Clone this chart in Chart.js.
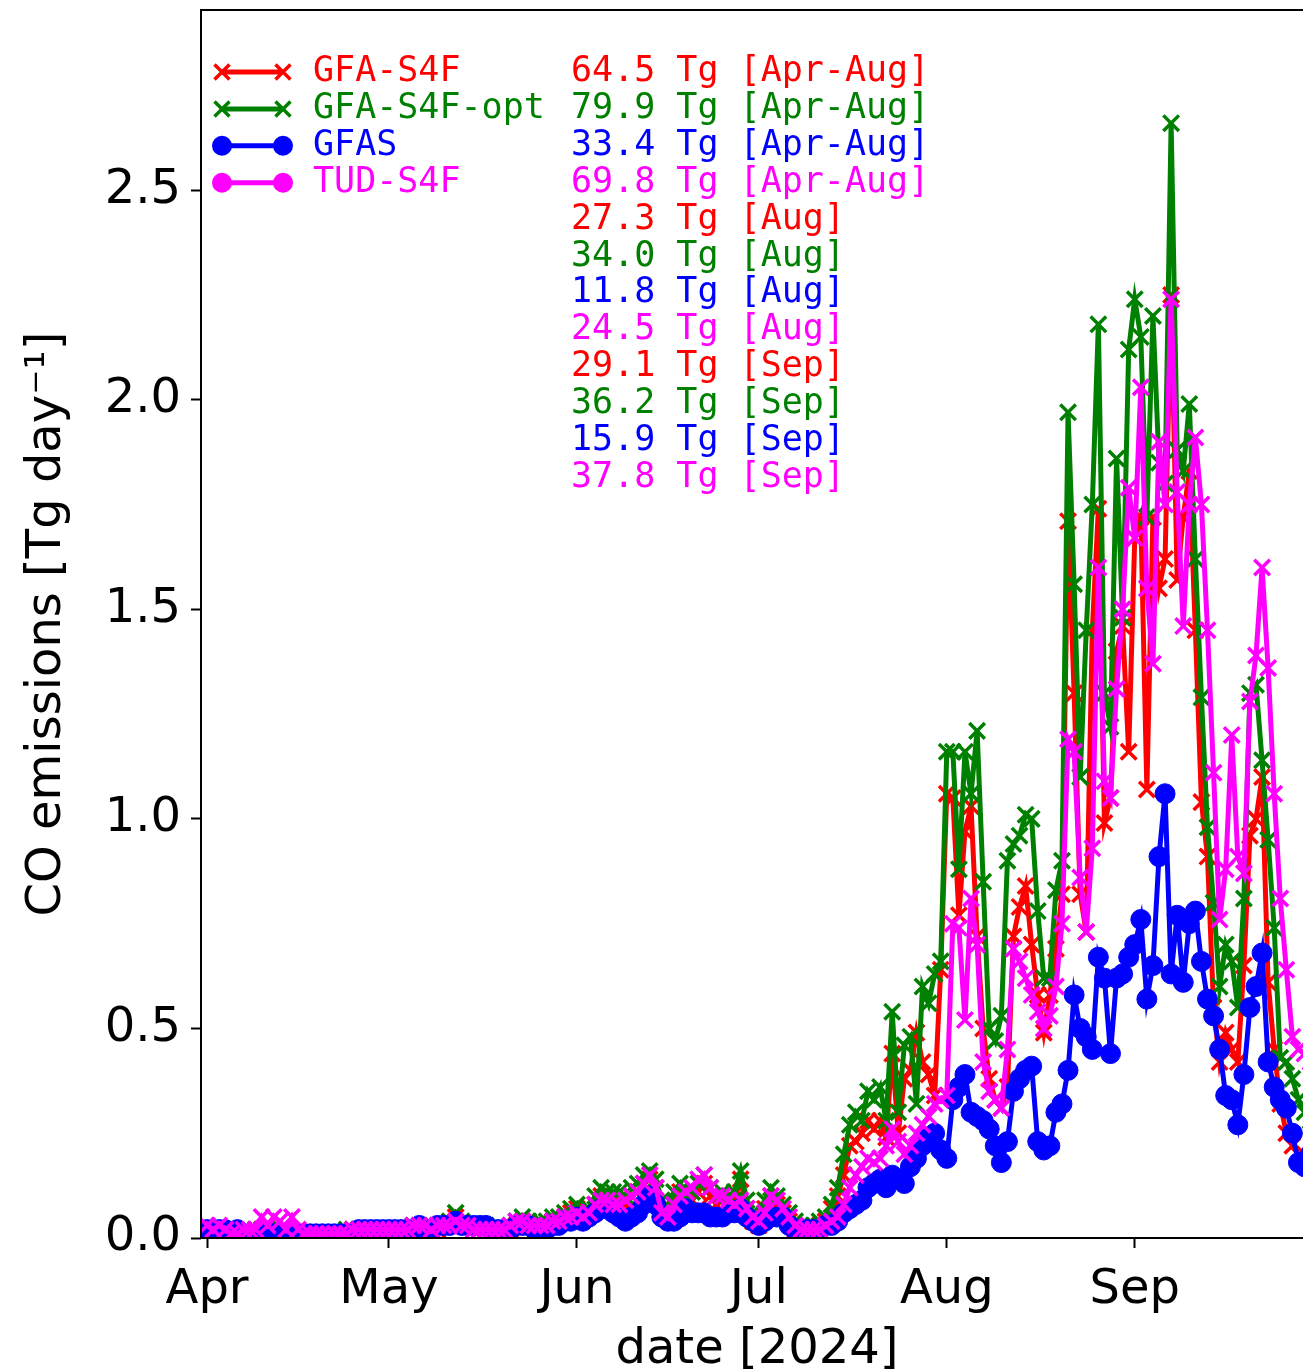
<!DOCTYPE html>
<html>
<head>
<meta charset="utf-8">
<script src="https://cdn.jsdelivr.net/npm/chart.js@4.4.1/dist/chart.umd.min.js"></script>
<style>
  html, body { margin: 0; padding: 0; background: #fff; overflow: hidden; }
  #wrap { position: absolute; left: 0; top: 0; width: 1320px; height: 1372px; }
</style>
</head>
<body>
<div id="wrap"><canvas id="myChart" width="1320" height="1372"></canvas></div>
<script>
// daily CO emissions [Tg/day], index 0 = 1 Apr 2024 ... 182 = 30 Sep 2024
const gfaS4F = [
  0.02,0.02,0.01,0.01,0.01,0.01,0.01,0.01,0.01,0.02,
  0.02,0.01,0.01,0.01,0.01,0.01,0.01,0.01,0.01,0.01,
  0.01,0.01,0.01,0.01,0.02,0.02,0.02,0.02,0.02,0.02,
  0.02,0.02,0.02,0.02,0.02,0.02,0.02,0.02,0.02,0.03,
  0.03,0.05,0.03,0.03,0.03,0.02,0.02,0.02,0.02,0.02,
  0.02,0.03,0.04,0.03,0.03,0.03,0.03,0.04,0.04,0.05,
  0.06,0.07,0.05,0.06,0.08,0.10,0.09,0.09,0.09,0.08,
  0.10,0.11,0.13,0.14,0.12,0.07,0.05,0.08,0.11,0.09,
  0.09,0.11,0.13,0.10,0.08,0.09,0.08,0.09,0.14,0.07,
  0.04,0.03,0.07,0.10,0.08,0.06,0.04,0.02,0.02,0.02,
  0.02,0.03,0.04,0.07,0.10,0.15,0.22,0.23,0.25,0.28,
  0.26,0.28,0.24,0.44,0.25,0.38,0.40,0.49,0.42,0.39,
  0.34,0.64,1.06,1.05,0.77,0.97,1.03,0.72,0.50,0.38,
  0.33,0.31,0.36,0.72,0.79,0.84,0.70,0.58,0.49,0.58,
  0.69,0.82,1.71,1.30,0.82,0.73,1.45,1.74,0.99,1.05,
  1.40,1.46,1.16,1.67,1.72,1.07,1.72,1.55,1.62,2.25,
  1.57,1.72,1.83,1.45,1.04,0.91,0.55,0.42,0.49,0.45,
  0.42,0.65,0.96,1.00,1.10,0.61,0.45,0.32,0.25,0.22,
  0.20,0.20,0.19
];
const gfaS4FOpt = [
  0.02,0.02,0.02,0.01,0.01,0.01,0.01,0.01,0.02,0.02,
  0.02,0.02,0.01,0.01,0.01,0.01,0.01,0.01,0.01,0.01,
  0.01,0.01,0.01,0.02,0.02,0.02,0.02,0.02,0.02,0.02,
  0.02,0.02,0.02,0.02,0.03,0.03,0.02,0.02,0.03,0.03,
  0.04,0.06,0.04,0.03,0.03,0.03,0.03,0.02,0.02,0.02,
  0.03,0.04,0.05,0.04,0.03,0.04,0.04,0.05,0.05,0.06,
  0.07,0.08,0.06,0.07,0.10,0.12,0.11,0.11,0.11,0.10,
  0.12,0.13,0.15,0.16,0.14,0.09,0.07,0.11,0.13,0.10,
  0.11,0.13,0.15,0.12,0.10,0.11,0.10,0.11,0.16,0.09,
  0.06,0.05,0.09,0.12,0.10,0.08,0.06,0.04,0.03,0.03,
  0.03,0.04,0.05,0.08,0.12,0.20,0.27,0.30,0.28,0.35,
  0.33,0.36,0.28,0.54,0.30,0.46,0.48,0.32,0.60,0.56,
  0.63,0.66,1.16,1.16,0.88,1.16,1.06,1.21,0.85,0.50,
  0.47,0.53,0.90,0.94,0.96,1.01,1.00,0.78,0.62,0.62,
  0.83,0.90,1.97,1.56,1.10,1.45,1.75,2.18,1.30,1.22,
  1.86,1.48,2.12,2.24,2.15,1.72,2.20,1.85,1.80,2.66,
  1.88,1.83,1.99,1.62,1.29,0.98,0.80,0.60,0.70,0.66,
  0.55,0.81,1.30,1.32,1.14,0.95,0.74,0.43,0.42,0.38,
  0.33,0.30,0.28
];
const gfas = [
  0.02,0.02,0.02,0.02,0.01,0.02,0.01,0.01,0.01,0.01,
  0.01,0.01,0.01,0.01,0.01,0.01,0.01,0.01,0.01,0.01,
  0.01,0.01,0.01,0.01,0.01,0.02,0.02,0.02,0.02,0.02,
  0.02,0.02,0.02,0.02,0.02,0.03,0.02,0.02,0.03,0.03,
  0.03,0.04,0.03,0.03,0.03,0.03,0.03,0.02,0.02,0.02,
  0.02,0.03,0.03,0.03,0.02,0.02,0.02,0.03,0.03,0.04,
  0.04,0.05,0.04,0.05,0.06,0.07,0.07,0.06,0.05,0.04,
  0.05,0.06,0.08,0.10,0.08,0.05,0.04,0.04,0.05,0.07,
  0.06,0.06,0.06,0.05,0.05,0.05,0.06,0.06,0.07,0.05,
  0.04,0.03,0.04,0.05,0.05,0.05,0.03,0.02,0.02,0.02,
  0.02,0.02,0.03,0.03,0.04,0.06,0.07,0.08,0.09,0.12,
  0.13,0.14,0.12,0.15,0.14,0.13,0.17,0.19,0.22,0.24,
  0.25,0.21,0.19,0.33,0.36,0.39,0.30,0.29,0.28,0.26,
  0.22,0.18,0.23,0.35,0.38,0.40,0.41,0.23,0.21,0.22,
  0.30,0.32,0.40,0.58,0.50,0.48,0.45,0.67,0.62,0.44,
  0.62,0.63,0.67,0.70,0.76,0.57,0.65,0.91,1.06,0.63,
  0.77,0.61,0.75,0.78,0.66,0.57,0.53,0.45,0.34,0.33,
  0.27,0.39,0.55,0.60,0.68,0.42,0.36,0.33,0.31,0.25,
  0.18,0.17,0.20
];
const tudS4F = [
  0.03,0.02,0.03,0.02,0.01,0.01,0.02,0.02,0.02,0.05,
  0.03,0.05,0.04,0.02,0.05,0.02,0.01,0.01,0.01,0.01,
  0.01,0.01,0.01,0.01,0.02,0.02,0.02,0.02,0.02,0.02,
  0.02,0.02,0.02,0.02,0.03,0.03,0.03,0.02,0.03,0.03,
  0.03,0.04,0.03,0.03,0.02,0.02,0.02,0.02,0.02,0.02,
  0.03,0.04,0.04,0.03,0.03,0.03,0.03,0.04,0.04,0.05,
  0.05,0.06,0.05,0.06,0.08,0.09,0.09,0.08,0.08,0.09,
  0.10,0.11,0.13,0.15,0.12,0.06,0.05,0.08,0.10,0.11,
  0.12,0.14,0.15,0.12,0.10,0.10,0.09,0.08,0.09,0.07,
  0.05,0.04,0.06,0.10,0.09,0.07,0.05,0.03,0.02,0.02,
  0.02,0.02,0.03,0.04,0.05,0.08,0.12,0.15,0.17,0.19,
  0.18,0.19,0.22,0.26,0.23,0.20,0.22,0.25,0.27,0.29,
  0.32,0.33,0.34,0.75,0.74,0.52,0.81,0.70,0.42,0.35,
  0.33,0.31,0.45,0.69,0.66,0.62,0.58,0.54,0.50,0.53,
  0.60,0.75,1.19,1.16,0.86,0.73,0.93,1.60,1.09,1.05,
  1.31,1.50,1.79,1.67,2.03,1.55,1.37,1.90,1.75,2.24,
  1.78,1.46,1.75,1.91,1.75,1.45,1.11,0.76,0.88,1.20,
  0.91,0.87,1.28,1.39,1.60,1.36,1.06,0.81,0.64,0.48,
  0.45,0.44,0.42
];

const seriesNames = ['GFA-S4F', 'GFA-S4F-opt', 'GFAS', 'TUD-S4F'];
const totalsAprAug = [64.5, 79.9, 33.4, 69.8];
const totalsAug = [27.3, 34.0, 11.8, 24.5];
const totalsSep = [29.1, 36.2, 15.9, 37.8];
const periodNames = ['Apr-Aug', 'Aug', 'Sep'];

const monthTicks = [0, 30, 61, 91, 122, 153];
const monthLabels = ['Apr', 'May', 'Jun', 'Jul', 'Aug', 'Sep'];
const yTicks = [0, 0.5, 1.0, 1.5, 2.0, 2.5];

// styles
const seriesColors = ['#ff0000', '#008000', '#0000ff', '#ff00ff'];
const plotMarkers = ['crossRot', 'crossRot', 'circle', 'crossRot'];
const legendMarkers = ['crossRot', 'crossRot', 'circle', 'circle'];
const seriesData = [gfaS4F, gfaS4FOpt, gfas, tudS4F];

function marker(ctx, style, x, y, color) {
  ctx.strokeStyle = color;
  ctx.fillStyle = color;
  ctx.beginPath();
  if (style === 'circle') {
    ctx.arc(x, y, 10, 0, Math.PI * 2);
    ctx.fill();
  } else {
    ctx.lineWidth = 3.5;
    ctx.moveTo(x - 7.5, y - 7.5); ctx.lineTo(x + 7.5, y + 7.5);
    ctx.moveTo(x - 7.5, y + 7.5); ctx.lineTo(x + 7.5, y - 7.5);
    ctx.stroke();
  }
}

const annotate = {
  id: 'annotate',
  afterDatasetsDraw(chart) {
    const {ctx, chartArea: a} = chart;
    ctx.save();
    ctx.strokeStyle = '#000';
    ctx.lineWidth = 2;
    ctx.strokeRect(a.left, a.top, a.right - a.left, a.bottom - a.top);
    ctx.restore();
  },
  afterDraw(chart) {
    const {ctx, chartArea: a} = chart;
    const rowH = 36.9;
    const y0 = a.top + 62;
    ctx.save();
    ctx.font = '35px "DejaVu Sans Mono"';
    ctx.textBaseline = 'middle';
    ctx.textAlign = 'left';
    seriesNames.forEach((name, k) => {
      const y = y0 + k * rowH;
      const x1 = a.left + 21, x2 = a.left + 82;
      ctx.strokeStyle = seriesColors[k];
      ctx.lineWidth = 5;
      ctx.beginPath();
      ctx.moveTo(x1, y);
      ctx.lineTo(x2, y);
      ctx.stroke();
      marker(ctx, legendMarkers[k], x1, y, seriesColors[k]);
      marker(ctx, legendMarkers[k], x2, y, seriesColors[k]);
      ctx.fillStyle = seriesColors[k];
      ctx.fillText(name, a.left + 112, y);
    });
    [totalsAprAug, totalsAug, totalsSep].forEach((tot, p) => {
      tot.forEach((v, k) => {
        const y = y0 + (p * 4 + k) * rowH;
        ctx.fillStyle = seriesColors[k];
        ctx.fillText(v.toFixed(1) + ' Tg [' + periodNames[p] + ']', a.left + 370, y);
      });
    });
    ctx.restore();
  }
};

const tickFont = {family: 'DejaVu Sans', size: 48};
const axisGrid = {drawOnChartArea: false, drawTicks: true, tickLength: 10, tickWidth: 2, tickColor: '#000'};

var ctx = document.getElementById('myChart').getContext('2d');
var myChart = new Chart(ctx, {
  type: 'line',
  data: {
    datasets: seriesData.map((vals, k) => ({
      label: seriesNames[k],
      data: vals.map((v, i) => ({x: i, y: v})),
      borderColor: seriesColors[k],
      backgroundColor: seriesColors[k],
      borderWidth: 5,
      pointStyle: plotMarkers[k],
      pointRadius: plotMarkers[k] === 'circle' ? 10 : 11,
      pointBorderWidth: plotMarkers[k] === 'circle' ? 1 : 3.5,
      pointBackgroundColor: seriesColors[k],
      pointBorderColor: seriesColors[k],
      tension: 0,
      clip: 0,
      order: 3 - k
    }))
  },
  options: {
    responsive: false,
    animation: false,
    layout: {autoPadding: false, padding: {top: 10, right: 7, left: 0, bottom: 0}},
    plugins: {legend: {display: false}, tooltip: {enabled: false}},
    scales: {
      x: {
        type: 'linear',
        min: -1,
        max: 182.4,
        afterBuildTicks: s => { s.ticks = monthTicks.map(v => ({value: v})); },
        afterFit: s => { s.height = 134; s.paddingLeft = 0; s.paddingRight = 0; },
        ticks: {
          autoSkip: false, maxRotation: 0, padding: 14, color: '#000', font: tickFont,
          callback: v => monthLabels[monthTicks.indexOf(v)]
        },
        grid: axisGrid,
        border: {display: false},
        title: {display: true, text: 'date [2024]', color: '#000',
                font: {family: 'DejaVu Sans', size: 48, lineHeight: 1}, padding: {top: 0, bottom: -3}}
      },
      y: {
        min: 0,
        max: 2.93,
        afterBuildTicks: s => { s.ticks = yTicks.map(v => ({value: v})); },
        afterFit: s => { s.width = 201; s.paddingTop = 0; s.paddingBottom = 0; },
        ticks: {padding: 10, color: '#000', font: tickFont, callback: v => v.toFixed(1)},
        grid: axisGrid,
        border: {display: false},
        title: {display: true, text: 'CO emissions [Tg day\u207B\u00B9]', color: '#000',
                font: {family: 'DejaVu Sans', size: 48}, padding: {top: 19, bottom: 0}}
      }
    }
  },
  plugins: [annotate]
});
</script>
</body>
</html>
